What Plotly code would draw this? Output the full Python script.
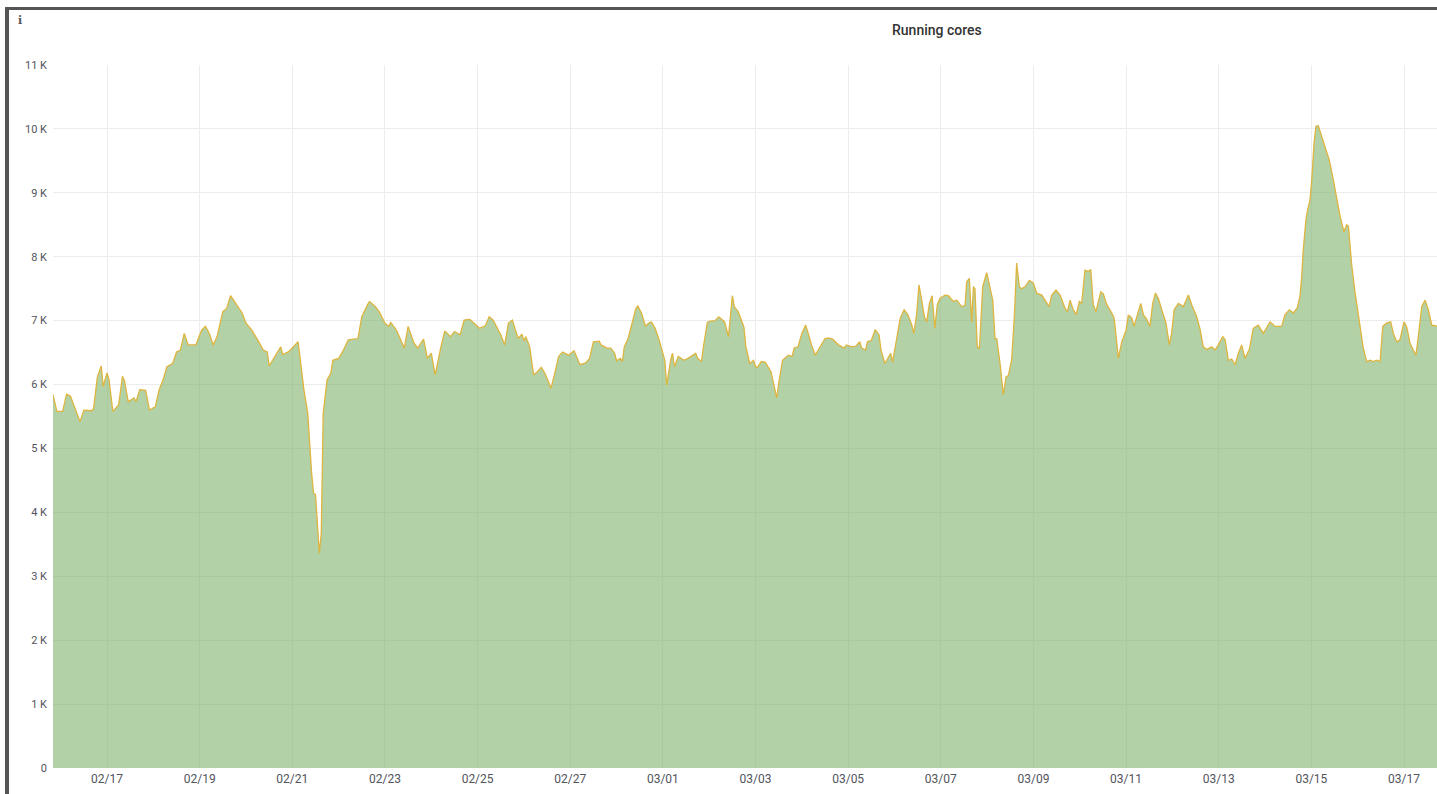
import pandas as pd
import plotly.graph_objects as go

# ---------------- data ----------------
BASE = "2021-02-16 00:00"          # hours below are offsets from this instant
TITLE = "Running cores"

hours = [
    -4, -2, 1, 3, 5, 7, 10, 12, 16, 17,
    19, 21, 22, 24, 25, 27, 29, 30, 32, 33,
    35, 38, 39, 41, 44, 46, 49, 51, 53, 55,
    58, 60, 62, 64, 66, 70, 73, 75, 77, 79,
    81, 84, 86, 88, 90, 94, 96, 99, 102, 105,
    107, 108, 111, 114, 115, 118, 119, 123, 126, 128,
    130, 131, 132, 133, 134, 135, 136, 138, 140, 141,
    144, 146, 149, 154, 156, 159, 160, 163, 165, 168,
    170, 171, 174, 178, 180, 183, 185, 188, 190, 192,
    194, 197, 199, 202, 204, 207, 209, 212, 217, 220,
    222, 224, 228, 230, 232, 234, 237, 239, 240, 241, 243,
    245, 247, 249, 251, 253, 254, 256, 258, 260, 263,
    266, 267, 269, 272, 274, 276, 279, 280, 283, 285,
    287, 288, 290, 291, 292, 294, 296, 298, 299, 301,
    303, 304.5, 306, 308, 310, 313, 314, 316, 317, 318,
    320, 323, 325, 329, 330, 332, 333, 335, 336, 339,
    341, 344, 346, 348, 349, 351, 354, 355, 357, 359,
    360, 361, 363, 365, 368, 369, 371, 372, 374, 377,
    379, 380, 382, 384, 386, 387, 389, 391, 393, 396,
    398, 400, 403, 406, 407, 410, 412, 414, 415, 417,
    418, 420, 422, 424, 425, 427, 428, 430, 431, 433,
    435, 437, 439, 441, 442, 443.5, 444.7, 446.1, 447.5, 448.7,
    450.1, 451.5, 452.9, 454.2, 455.6, 458.2, 459.9, 462.5, 464.3, 466.8,
    468.6, 469.4, 470.8, 472, 472.9, 473.7, 474.9, 476, 477.7, 479.8,
    481.5, 482.9, 484.1, 485, 486.7, 488.4, 489.8, 491, 492.7, 494.1,
    495.3, 496.7, 497.9, 499.6, 501.9, 503.9, 505.7, 508.3, 510, 512.1,
    513.5, 515.7, 517.8, 520.4, 521.6, 523, 524.4, 526.1, 527.8, 529,
    530.7, 532.4, 533.7, 535, 536.4, 538.9, 540.2, 542, 544.6, 545.8,
    547.2, 548, 549.8, 552, 553.2, 555, 556.1, 557.5, 559.6, 561,
    562.7, 564.4, 565.8, 567.2, 568.7, 571, 572.7, 574.4, 575.6, 576.9,
    579.1, 581.7, 584.3, 586, 588.6, 590.3, 592, 593.8, 596.4, 598.1,
    599.8, 602.1, 603.3, 605, 606.7, 608.5, 610.2, 611.9, 613.6, 615.9,
    617.9, 620.5, 623.1, 626.6, 629.2, 632.6, 634.3, 636.6, 638.7, 640.7,
    642.1, 643, 643.8, 645.2, 645.9, 647.3, 648.2, 649.4, 650.4, 651.6,
    653.4, 655.1, 657.3, 659.4, 661.1, 662.9, 664.9, 666.3, 667.2, 668.9,
    670.6, 672.9, 674.9, 676.7, 678.4, 680.1, 681.9, 683.6, 685, 687,
    689.1, 690.5, 692.2, 693.9, 696, 697.4, 699.1, 700.8, 702.2, 703.4,
    705.2, 706.9, 708.6, 710.4, 713.1, 715,
]

cores = [
    5840, 5580, 5580, 5850, 5820, 5650, 5420, 5600, 5590, 5620,
    6120, 6290, 5970, 6180, 6080, 5580, 5650, 5680, 6130, 6060,
    5730, 5790, 5730, 5920, 5910, 5600, 5650, 5920, 6070, 6280,
    6330, 6510, 6540, 6800, 6620, 6620, 6850, 6910, 6800, 6620,
    6750, 7140, 7190, 7390, 7300, 7120, 6960, 6850, 6700, 6540,
    6510, 6290, 6440, 6590, 6470, 6510, 6540, 6670, 5920, 5550,
    4610, 4300, 4280, 3780, 3360, 3670, 5550, 6070, 6180, 6380,
    6410, 6510, 6700, 6720, 7060, 7250, 7300, 7220, 7140, 6960,
    6910, 6970, 6850, 6570, 6910, 6650, 6570, 6710, 6410, 6490,
    6150, 6590, 6840, 6750, 6830, 6780, 7010, 7020, 6880, 6920,
    7060, 7010, 6780, 6620, 6960, 7010, 6720, 6790, 6680, 6750, 6590,
    6150, 6200, 6270, 6170, 6020, 5940, 6180, 6440, 6510, 6460,
    6530, 6460, 6310, 6340, 6410, 6670, 6680, 6620, 6570, 6570,
    6490, 6370, 6410, 6360, 6590, 6720, 6960, 7190, 7230, 7110,
    6910, 6960, 6980, 6880, 6700, 6380, 5990, 6380, 6490, 6280,
    6440, 6380, 6410, 6490, 6410, 6360, 6590, 6970, 6990, 7000,
    7060, 6980, 6750, 7390, 7220, 7140, 6900, 6590, 6330, 6380,
    6280, 6270, 6360, 6350, 6200, 6070, 5790, 6020, 6380, 6460,
    6440, 6570, 6590, 6800, 6930, 6830, 6620, 6460, 6570, 6720,
    6730, 6710, 6620, 6570, 6620, 6590, 6600, 6670, 6570, 6540,
    6670, 6690, 6860, 6780, 6540, 6330, 6380, 6490, 6350, 6700,
    7040, 7170, 7090, 6930, 6800, 7100, 7560, 7320, 7060, 6980,
    7270, 7390, 6880, 7250, 7350, 7400, 7390, 7300, 7320, 7220,
    7240, 7610, 7660, 6980, 7530, 7500, 6590, 6560, 7530, 7750,
    7510, 7320, 6720, 6720, 6330, 5840, 6120, 6140, 6380, 7060,
    7900, 7530, 7500, 7530, 7630, 7590, 7430, 7400, 7320, 7220,
    7400, 7480, 7400, 7190, 7140, 7320, 7190, 7090, 7300, 7270,
    7790, 7770, 7800, 7250, 7140, 7450, 7420, 7250, 7120, 7040,
    6650, 6410, 6670, 6850, 7090, 7040, 6910, 7040, 7270, 7090,
    7020, 6910, 7270, 7430, 7350, 7120, 6960, 6620, 6800, 7170,
    7270, 7220, 7400, 7250, 7060, 6870, 6590, 6550, 6590, 6540,
    6620, 6750, 6700, 6380, 6400, 6310, 6490, 6620, 6410, 6550,
    6880, 6930, 6800, 6980, 6910, 6910, 7090, 7170, 7120, 7200,
    7380, 7690, 8110, 8580, 8710, 8890, 9200, 9780, 10040, 10050,
    9880, 9720, 9510, 9200, 8920, 8630, 8390, 8500, 8480, 7870,
    7450, 6960, 6570, 6360, 6380, 6360, 6380, 6360, 6910, 6960,
    6980, 6800, 6670, 6700, 6980, 6900, 6650, 6540, 6460, 6750,
    7220, 7320, 7170, 6930, 6910, 6900,
]

y_tick_values = list(range(0, 11001, 1000))
y_tick_labels = ["0"] + [f"{k} K" for k in range(1, 12)]
x_range = ["2021-02-15 20:00", "2021-03-17 17:06"]
x_tick_start = "2021-02-17"

# ---------------- figure ----------------
times = pd.Timestamp(BASE) + pd.to_timedelta(hours, unit="h")

W, H = 1437, 794
ML, MR, MT, MB = 53, 0, 65, 26
PW, PH = W - ML - MR, H - MT - MB


def pxx(x):
    return (x - ML) / PW


def pxy(y):
    return (H - MB - y) / PH


fig = go.Figure()
fig.add_trace(go.Scatter(
    x=times, y=cores, mode="lines",
    line=dict(color="#DDB540", width=1.3),
    fill="tozeroy", fillcolor="rgba(126,178,109,0.6)",
    hoverinfo="x+y", showlegend=False,
))

grid = "#ececec"
tick_font = dict(family="Roboto, Noto Sans, sans-serif", size=12, color="#52545c")

fig.update_layout(
    width=W, height=H,
    margin=dict(l=ML, r=MR, t=MT, b=MB, pad=0),
    paper_bgcolor="white", plot_bgcolor="white",
    xaxis=dict(
        type="date", range=x_range,
        tick0=x_tick_start, dtick=2 * 86400000, tickformat="%m/%d",
        showgrid=True, gridcolor=grid, gridwidth=1,
        zeroline=False, showline=False, ticks="",
        tickfont=tick_font, ticklabelstandoff=2,
    ),
    yaxis=dict(
        range=[0, 11000], tickvals=y_tick_values, ticktext=y_tick_labels,
        showgrid=True, gridcolor=grid, gridwidth=1,
        zeroline=False, showline=False, ticks="",
        tickfont=dict(family="Roboto, Noto Sans, sans-serif", size=11, color="#52545c"),
        ticklabelstandoff=5,
    ),
    annotations=[
        dict(text=TITLE, xref="paper", yref="paper", x=pxx(937), y=pxy(30),
             xanchor="center", yanchor="middle", showarrow=False,
             font=dict(family="Roboto, Noto Sans, sans-serif", size=14,
                       color="#333333", weight=500)),
        dict(text="i", xref="paper", yref="paper", x=pxx(19.5), y=pxy(21),
             xanchor="center", yanchor="middle", showarrow=False,
             font=dict(family="DejaVu Serif, serif", size=11, color="#555555",
                       weight="bold")),
    ],
    shapes=[
        dict(type="rect", xref="paper", yref="paper",
             x0=pxx(5), x1=pxx(9), y0=pxy(H + 5), y1=pxy(7),
             fillcolor="#555555", line=dict(width=0), layer="above"),
        dict(type="rect", xref="paper", yref="paper",
             x0=pxx(5), x1=pxx(W + 5), y0=pxy(10), y1=pxy(7),
             fillcolor="#555555", line=dict(width=0), layer="above"),
    ],
)

fig.write_html(
    "out.html",
    config={"displayModeBar": False},
    post_script="document.body.style.margin='0';document.body.style.overflow='hidden';",
)
